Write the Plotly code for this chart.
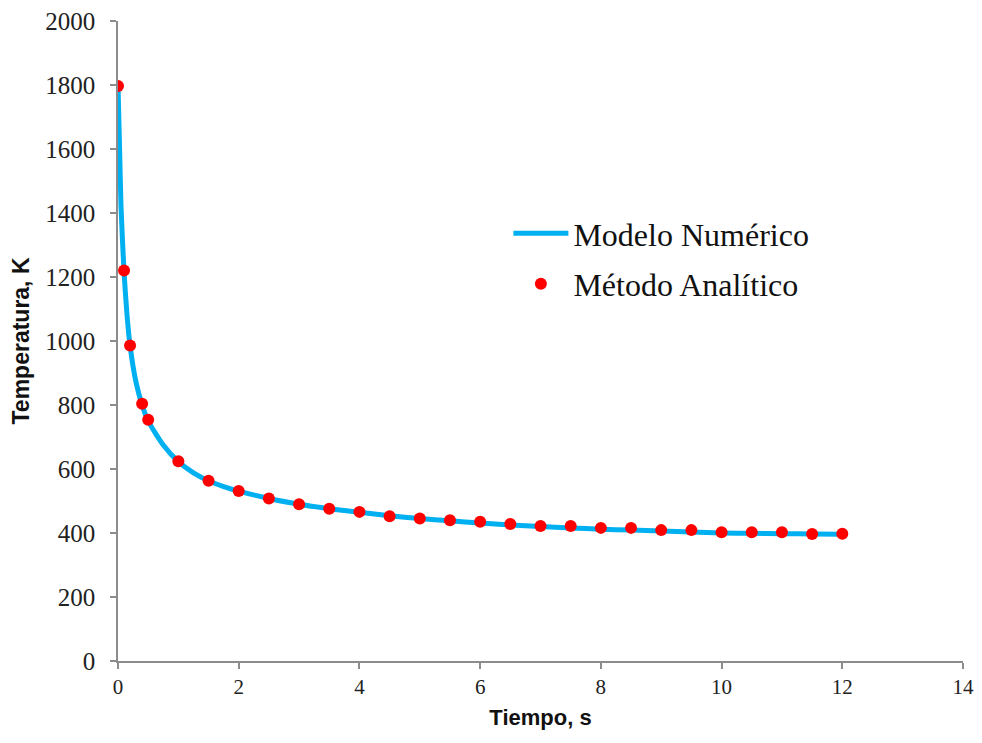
import plotly.graph_objects as go

# Numeric model (curve)
t_model = [0, 0.02, 0.05, 0.1, 0.15, 0.2, 0.3, 0.4, 0.5, 0.75, 1, 1.25, 1.5, 1.75, 2,
           2.5, 3, 3.5, 4, 4.5, 5, 5.5, 6, 6.5, 7, 7.5, 8, 8.5, 9, 9.5, 10, 10.5, 11, 11.5, 12]
T_model = [1800, 1650, 1420, 1215, 1080, 985, 870, 800, 750, 675, 623, 588, 563, 545, 531,
           508, 490, 476, 465, 454, 445, 438, 431, 425, 420, 416, 412, 409, 406, 403, 400, 399, 398, 397, 396]

# Analytic method (points)
t_anal = [0, 0.1, 0.2, 0.4, 0.5, 1, 1.5, 2, 2.5, 3, 3.5, 4, 4.5, 5, 5.5, 6, 6.5, 7,
          7.5, 8, 8.5, 9, 9.5, 10, 10.5, 11, 11.5, 12]
T_anal = [1797, 1220, 986, 804, 754, 624, 563, 531, 508, 490, 476, 466, 452, 445, 440, 435, 428, 422,
          422, 416, 416, 409, 409, 402, 402, 402, 397, 398]

x_ticks = [0, 2, 4, 6, 8, 10, 12, 14]
y_ticks = [0, 200, 400, 600, 800, 1000, 1200, 1400, 1600, 1800, 2000]

fig = go.Figure()
fig.add_trace(go.Scatter(
    x=t_model, y=T_model, mode="lines", name="Modelo Numérico", legendgroup="a",
    line=dict(color="#00B0F0", width=5, shape="spline", smoothing=0.6),
))
fig.add_trace(go.Scatter(
    x=t_anal, y=T_anal, mode="markers", name="Método Analítico", legendgroup="b",
    marker=dict(color="#FF0000", size=12),
))

axis_common = dict(
    showgrid=False, zeroline=False, showline=True, linecolor="#8c8c8c", linewidth=1.5,
    ticks="outside", tickcolor="#8c8c8c", ticklen=6, tickwidth=1.5, automargin=False,
    ticklabeloverflow="allow",
)

fig.update_layout(
    width=974, height=735,
    margin=dict(l=110, r=19, t=13, b=82),
    paper_bgcolor="white", plot_bgcolor="white",
    showlegend=True,
    legend=dict(
        x=0.462, y=0.711, xanchor="left", yanchor="top",
        font=dict(family="Liberation Serif", size=32, color="#111111"),
        bgcolor="rgba(0,0,0,0)", tracegroupgap=6, itemwidth=55,
    ),
    xaxis=dict(
        range=[0, 14], tickvals=x_ticks, ticktext=[str(v) for v in x_ticks],
        tickfont=dict(family="Liberation Serif", size=21, color="#222222"),
        title=dict(text="<b>Tiempo, s</b>", font=dict(family="Liberation Sans", size=22, color="#111111"), standoff=12),
        **axis_common,
    ),
    yaxis=dict(
        range=[0, 2000], tickvals=y_ticks, ticktext=[str(v) for v in y_ticks],
        tickfont=dict(family="Liberation Serif", size=25, color="#222222"),
        ticklabelstandoff=10,
        title=dict(text="<b>Temperatura, K</b>", font=dict(family="Liberation Sans", size=23, color="#111111"), standoff=14),
        **axis_common,
    ),
)

fig.write_html("out.html")
